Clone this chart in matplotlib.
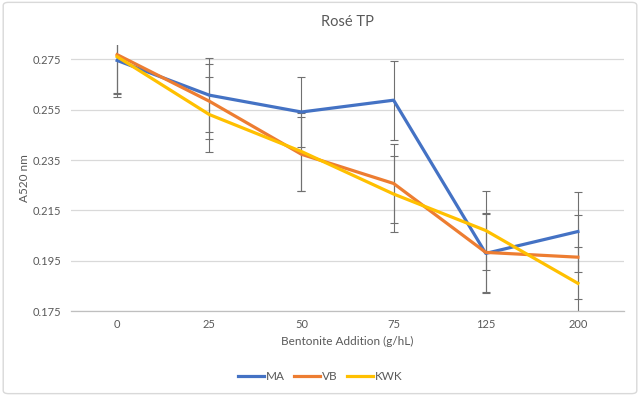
import matplotlib
matplotlib.use("Agg")
import matplotlib.pyplot as plt
from matplotlib.patches import FancyBboxPatch

plt.rcParams['font.family'] = ['Lato', 'DejaVu Sans']

doses = ['0', '25', '50', '75', '125', '200']

ma = [0.2746, 0.2608, 0.2541, 0.2588, 0.1979, 0.2066]
vb = [0.2769, 0.2584, 0.2373, 0.2257, 0.1983, 0.1964]
kwk = [0.2761, 0.2531, 0.2384, 0.2215, 0.2070, 0.1860]

ma_err = [0.0146, 0.0148, 0.0138, 0.0157, 0.0158, 0.0159]
vb_err = [0.0154, 0.0149, 0.0147, 0.0158, 0.0158, 0.0168]
kwk_err = [0.0147, 0.0149, 0.0155, 0.0152, 0.0157, 0.0145]

yticks = [0.175, 0.195, 0.215, 0.235, 0.255, 0.275]

series = [('MA', ma, ma_err, '#4472C4'),
          ('VB', vb, vb_err, '#ED7D31'),
          ('KWK', kwk, kwk_err, '#FFC000')]

txt = '#595959'

fig = plt.figure(figsize=(6.4, 3.96), dpi=100)
ax = fig.add_axes([0.111, 0.2146, 0.864, 0.6709])

x = list(range(len(doses)))
for name, vals, err, col in series:
    ax.errorbar(x, vals, yerr=err, fmt='none', ecolor='#707070', elinewidth=0.8,
                capsize=3, capthick=0.8, zorder=2)
for name, vals, err, col in series:
    ax.plot(x, vals, color=col, lw=2.3, label=name, zorder=3,
            solid_joinstyle='round')

ax.set_xlim(-0.5, 5.5)
ax.set_ylim(0.175, 0.2806)
ax.set_xticks(x)
ax.set_xticklabels(doses)
ax.set_yticks(yticks)
ax.set_yticklabels(['%.3f' % v for v in yticks])
ax.grid(axis='y', color='#d9d9d9', lw=0.9)
ax.set_axisbelow(True)
for s in ['top', 'right', 'left']:
    ax.spines[s].set_visible(False)
ax.spines['bottom'].set_color('#bfbfbf')
ax.spines['bottom'].set_linewidth(0.9)
ax.tick_params(axis='both', length=0, labelsize=8, colors=txt, pad=6)
ax.tick_params(axis='y', pad=7)

ax.set_title('Rosé TP', fontsize=10.5, color=txt, pad=14)
ax.set_xlabel('Bentonite Addition (g/hL)', fontsize=8.5, color=txt, labelpad=4)
ax.set_ylabel('A520 nm', fontsize=8.5, color=txt, labelpad=2)

leg = fig.legend(loc='center', bbox_to_anchor=(0.5, 0.05), ncol=3, frameon=False,
                 fontsize=8.5, handlelength=2.2, handletextpad=0.15, columnspacing=0.8)
for t in leg.get_texts():
    t.set_color(txt)

# light chart border like the Excel chart area
fig.patches.append(FancyBboxPatch((0.005, 0.006), 0.99, 0.988,
                                  boxstyle='round,pad=0,rounding_size=0.008',
                                  transform=fig.transFigure, fill=False,
                                  edgecolor='#d9d9d9', lw=1))

fig.savefig('out.png', dpi=100)
